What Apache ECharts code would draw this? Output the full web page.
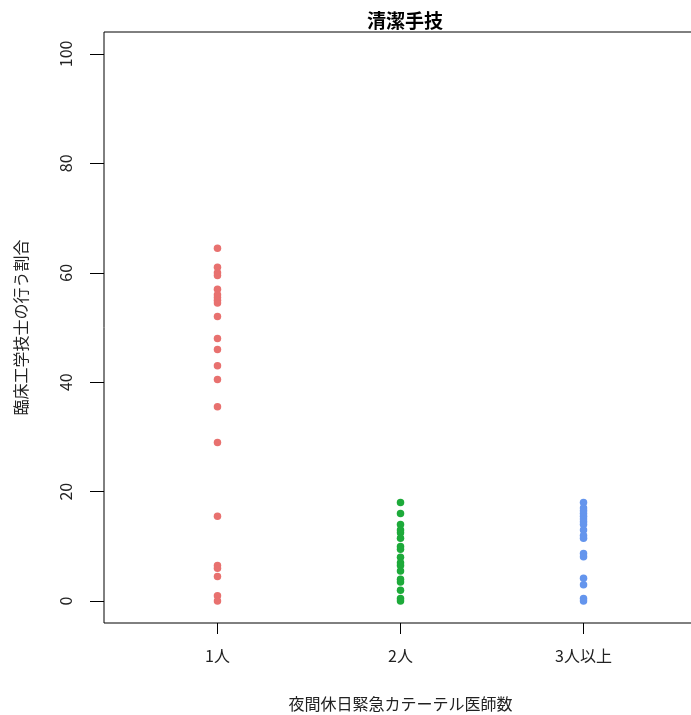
<!DOCTYPE html>
<html><head><meta charset="utf-8">
<script src="https://cdn.jsdelivr.net/npm/echarts@6/dist/echarts.min.js"></script>
<style>html,body{margin:0;padding:0;background:#fff}#c{width:691px;height:715px}</style>
</head><body><div id="c"></div>
<script>
const categories = ['1人', '2人', '3人以上'];
const yTicks = [0, 20, 40, 60, 80, 100];
const group1 = [64.5, 61, 60, 59.5, 57, 56, 55.5, 55, 54.5, 52, 48, 46, 43, 40.5, 35.5, 29, 15.5, 6.5, 6, 4.5, 1, 0];
const group2 = [18, 16, 14, 13, 12.5, 11.5, 10, 9.5, 8, 7, 6.5, 5.5, 4, 3.5, 2, 0.5, 0];
const group3 = [18, 17, 16.5, 16, 15.5, 15, 14.5, 14, 13, 12, 11.5, 8.7, 8.1, 4.2, 3, 0.5, 0];
const colors = ['#E8716F', '#1DAA3A', '#6495ED'];
const groups = [group1, group2, group3];

const font = '"Noto Sans CJK JP", sans-serif';
const chart = echarts.init(document.getElementById('c'));
chart.setOption({
  animation: false,
  title: {
    text: '清潔手技', left: 400, top: 6, textAlign: 'center',
    textStyle: { fontFamily: font, fontSize: 19, fontWeight: 'bold', color: '#000' }
  },
  grid: { left: 104, top: 32, width: 593, height: 591, show: true, borderColor: '#000', borderWidth: 1,
    containLabel: false, outerBoundsMode: 'none' },
  xAxis: {
    type: 'value', min: 0.38, max: 3.62,
    name: '夜間休日緊急カテーテル医師数', nameLocation: 'middle', nameGap: 73,
    nameTextStyle: { fontFamily: font, fontSize: 16, color: '#222' },
    axisLine: { show: false, onZero: false }, splitLine: { show: false },
    axisTick: { show: true, length: 11, customValues: [1, 2, 3], lineStyle: { color: '#000' } },
    axisLabel: { customValues: [1, 2, 3], margin: 25, fontFamily: font, fontSize: 16, color: '#222',
      formatter: v => categories[Math.round(v) - 1] }
  },
  yAxis: {
    type: 'value', min: -4, max: 104,
    name: '臨床工学技士の行う割合', nameLocation: 'middle', nameGap: 75, nameRotate: 90,
    nameTextStyle: { fontFamily: font, fontSize: 16, color: '#222' },
    axisLine: { show: false, onZero: false }, splitLine: { show: false },
    axisTick: { show: true, length: 14, customValues: yTicks, lineStyle: { color: '#000' } },
    axisLabel: { customValues: yTicks, rotate: 90, margin: 30, fontFamily: font, fontSize: 16, color: '#222' }
  },
  series: groups.map((g, i) => ({
    type: 'scatter', symbolSize: 7.5,
    itemStyle: { color: colors[i], opacity: 1 },
    data: g.map(v => [i + 1, v])
  }))
});
</script></body></html>
